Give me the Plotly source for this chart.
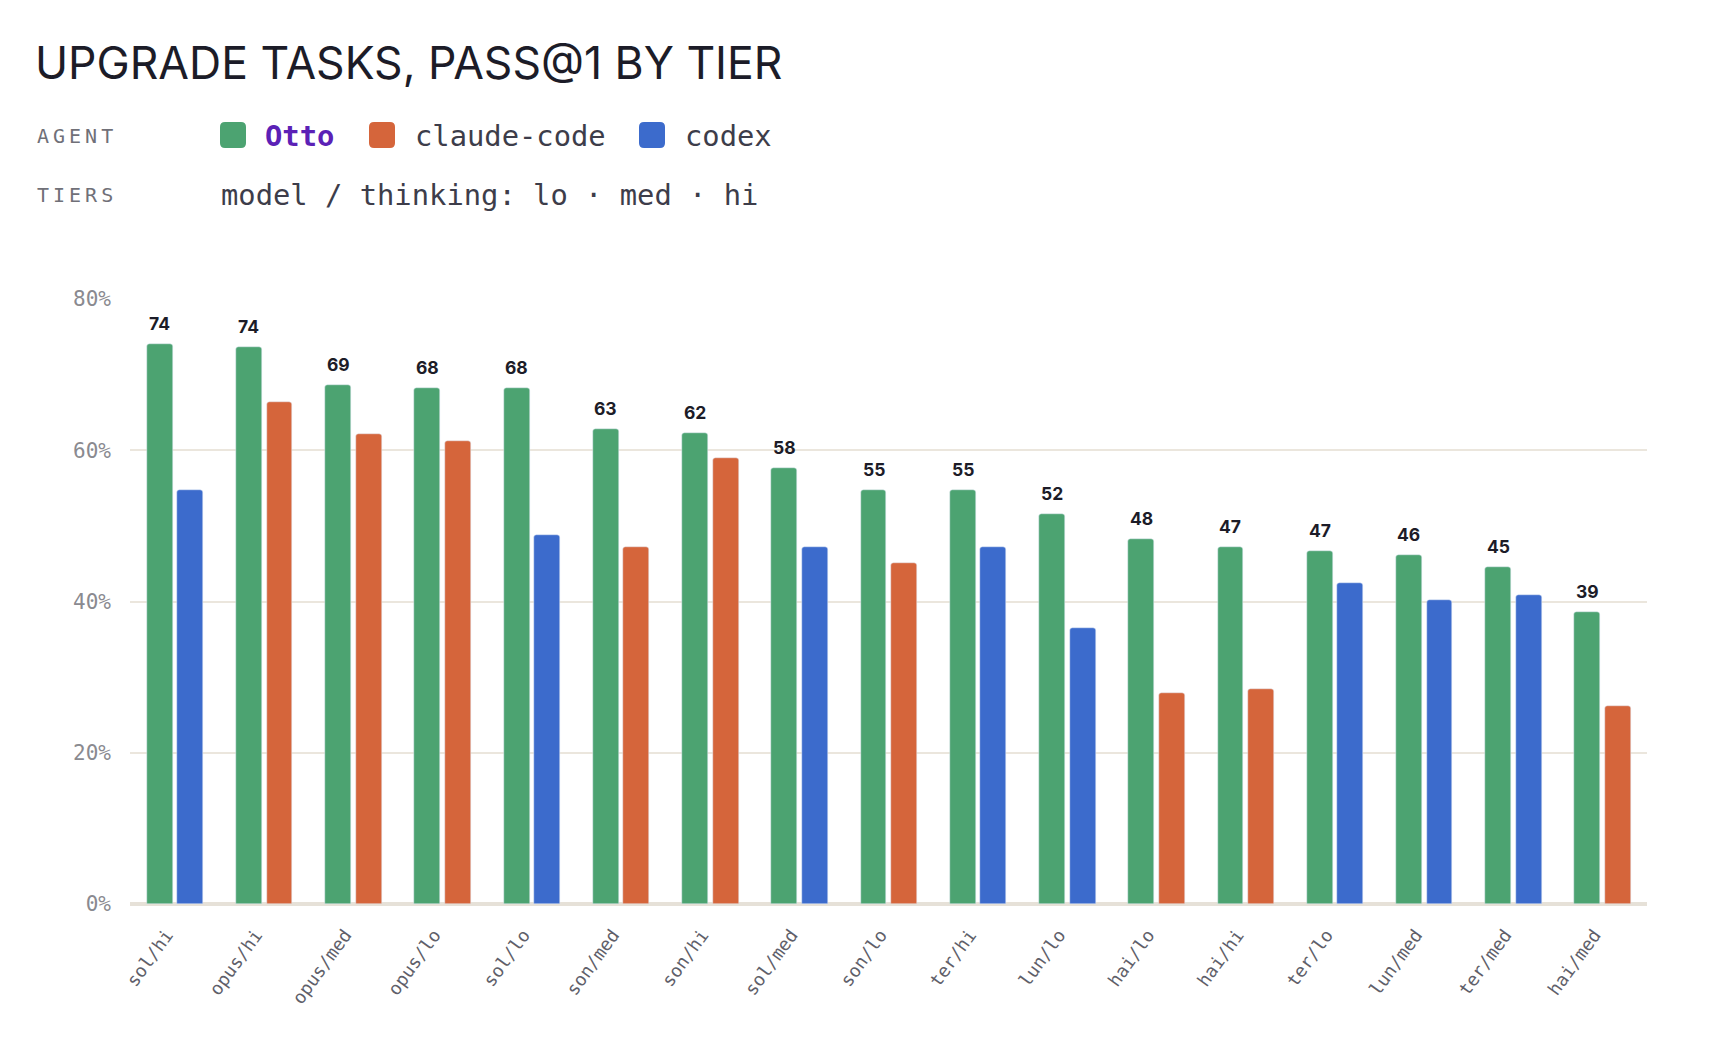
import plotly.graph_objects as go

# pass@1 (%) per model/thinking tier, sorted by Otto score
tiers = ["sol/hi", "opus/hi", "opus/med", "opus/lo", "sol/lo", "son/med", "son/hi",
         "sol/med", "son/lo", "ter/hi", "lun/lo", "hai/lo", "hai/hi", "ter/lo",
         "lun/med", "ter/med", "hai/med"]
otto = [74.1, 73.6, 68.6, 68.2, 68.2, 62.8, 62.3, 57.6, 54.7, 54.7, 51.6, 48.3,
        47.2, 46.7, 46.1, 44.6, 38.6]
claude_code = [None, 66.4, 62.2, 61.2, None, 47.2, 59.0, None, 45.1, None, None,
               27.9, 28.4, None, None, None, 26.2]
codex = [54.7, None, None, None, 48.8, None, None, 47.2, None, 47.2, 36.5, None,
         None, 42.4, 40.2, 40.8, None]
y_ticks = [0, 20, 40, 60, 80]
y_tick_text = ["0%", "20%", "40%", "60%", "80%"]

GREEN = "#4ca371"
ORANGE = "#d5653b"
BLUE = "#3c6bcc"
MONO = "DejaVu Sans Mono"

# page body has an 8px margin, so the figure starts at (8, 8)
OFF = 8
W, H = 1714, 1044
L, R, T, B = 122, 75, 291, 148
PW, PH = W - L - R, H - T - B


def px_x(px):
    # page pixel -> paper fraction
    return (px - OFF - L) / PW


def px_y(py):
    return (H - B - (py - OFF)) / PH


fig = go.Figure()
fig.add_trace(go.Bar(x=tiers, y=otto, name="Otto", marker_color=GREEN,
                     offset=-0.313, width=0.29, marker_cornerradius=3))
fig.add_trace(go.Bar(x=tiers, y=claude_code, name="claude-code", marker_color=ORANGE,
                     offset=0.03, width=0.29, marker_cornerradius=3))
fig.add_trace(go.Bar(x=tiers, y=codex, name="codex", marker_color=BLUE,
                     offset=0.03, width=0.29, marker_cornerradius=3))

# value labels over the Otto bars
for t, v in zip(tiers, otto):
    fig.add_annotation(x=t, y=v, text=f"{v:.0f}", showarrow=False, yanchor="bottom",
                       xshift=-15, yshift=8,
                       font=dict(family="Inter", size=17.5, color="#1c1c28", weight="bold"))

# header block
fig.add_annotation(xref="paper", yref="paper", x=px_x(35), y=px_y(136), xanchor="left",
                   yanchor="middle", showarrow=False,
                   text='<span style="letter-spacing:4px">AGENT</span>',
                   font=dict(family=MONO, size=20, color="#707078"))
fig.add_annotation(xref="paper", yref="paper", x=px_x(35), y=px_y(195), xanchor="left",
                   yanchor="middle", showarrow=False,
                   text='<span style="letter-spacing:4px">TIERS</span>',
                   font=dict(family=MONO, size=20, color="#707078"))
fig.add_annotation(xref="paper", yref="paper", x=px_x(219), y=px_y(195), xanchor="left",
                   yanchor="middle", showarrow=False,
                   text="model / thinking: lo · med · hi",
                   font=dict(family=MONO, size=28.8, color="#3d3d4a"))

legend_items = [("Otto", GREEN, 233, 263, "#5b21b6", True),
                ("claude-code", ORANGE, 382, 413, "#3d3d4a", False),
                ("codex", BLUE, 652, 683, "#3d3d4a", False)]
sq = ("M -8,-13 L 8,-13 Q 13,-13 13,-8 L 13,8 Q 13,13 8,13 L -8,13 "
      "Q -13,13 -13,8 L -13,-8 Q -13,-13 -8,-13 Z")
for label, color, cx, tx, tcolor, bold in legend_items:
    fig.add_shape(type="path", xref="paper", yref="paper", xsizemode="pixel",
                  ysizemode="pixel", xanchor=px_x(cx), yanchor=px_y(135), path=sq,
                  fillcolor=color, line_width=0)
    fig.add_annotation(xref="paper", yref="paper", x=px_x(tx), y=px_y(136),
                       xanchor="left", yanchor="middle", showarrow=False,
                       text=f"<b>{label}</b>" if bold else label,
                       font=dict(family=MONO, size=28.8, color=tcolor))

# right page edge
fig.add_shape(type="line", xref="paper", yref="paper", x0=px_x(1716), x1=px_x(1716),
              y0=px_y(1060), y1=px_y(0), line=dict(color="#dcdcdc", width=2))

fig.update_layout(
    width=W, height=H,
    margin=dict(l=L, r=R, t=T, b=B),
    paper_bgcolor="white", plot_bgcolor="white",
    showlegend=False,
    bargap=0,
    title=dict(text="UPGRADE TASKS, PASS@1 BY TIER", xref="container", yref="container",
               x=(35 - OFF) / W, xanchor="left", y=1 - (63 - OFF) / H, yanchor="middle",
               font=dict(family="Inter", size=44.5, color="#1c1c28")),
    xaxis=dict(tickangle=-54, showgrid=False, ticks="", ticklabelstandoff=16,
               ticklabelshift=-8,
               tickfont=dict(family=MONO, size=18, color="#5f5f6a")),
    yaxis=dict(range=[0, 80], tickvals=y_ticks, ticktext=y_tick_text, showgrid=True,
               gridcolor="#ebe6dd", gridwidth=2, zeroline=True, zerolinecolor="#e6e1d8",
               zerolinewidth=4, ticklabelstandoff=18,
               tickfont=dict(family=MONO, size=21, color="#8a8a90")),
)

fig.write_html("out.html")
